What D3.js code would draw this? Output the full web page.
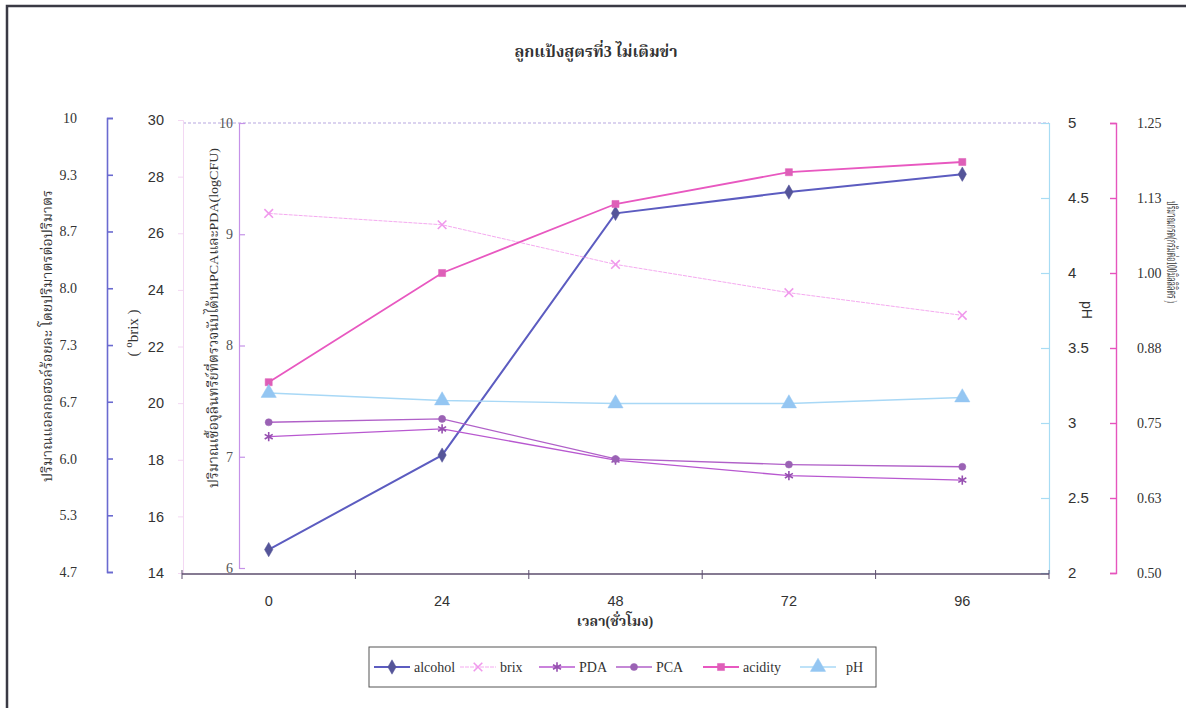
<!DOCTYPE html>
<html>
<head>
<meta charset="utf-8">
<script src="https://cdn.jsdelivr.net/npm/d3@7"></script>
<style>
  body { margin: 0; background: #fff; }
  svg { display: block; }
</style>
</head>
<body>
<svg id="chart" width="1186" height="708"></svg>
<script>
// Fermentation time (hours)
const hours = ["0", "24", "48", "72", "96"];

// Measured series
const alcohol = [4.93, 6.04, 8.88, 9.13, 9.34];     // % v/v
const brix    = [26.7, 26.3, 24.9, 23.9, 23.1];     // °brix
const pda     = [7.18, 7.25, 6.97, 6.83, 6.79];     // logCFU
const pca     = [7.31, 7.34, 6.98, 6.93, 6.91];     // logCFU
const acidity = [0.818, 1.00, 1.115, 1.168, 1.185]; // g / 100 ml
const ph      = [3.20, 3.15, 3.13, 3.13, 3.17];

// Axis ticks
const alcoholTicks = [10, 9.333, 8.667, 8, 7.333, 6.667, 6, 5.333, 4.667];
const alcoholTickLabels = ["10", "9.3", "8.7", "8.0", "7.3", "6.7", "6.0", "5.3", "4.7"];
const brixTicks = [30, 28, 26, 24, 22, 20, 18, 16, 14];
const microbeTicks = [10, 9, 8, 7, 6];
const phTicks = [5, 4.5, 4, 3.5, 3, 2.5, 2];
const acidityTicks = [1.25, 1.125, 1.0, 0.875, 0.75, 0.625, 0.5];
const acidityTickLabels = ["1.25", "1.13", "1.00", "0.88", "0.75", "0.63", "0.50"];

const THAI_SERIF = "'Liberation Serif', 'Noto Serif Thai', 'Noto Sans Thai', 'Times New Roman', serif";
const SANS = "'Liberation Sans', Arial, sans-serif";
const SERIF = "'Liberation Serif', 'Times New Roman', serif";

const svg = d3.select("#chart");

// frame
svg.append("path")
  .attr("d", "M7,708 V6 H1186")
  .attr("fill", "none").attr("stroke", "#3a3a44").attr("stroke-width", 2.5);

// scales
const x = d3.scaleBand().domain(hours).range([182, 1049]);
const cx = d => x(d) + x.bandwidth() / 2;
const yAlc  = d3.scaleLinear().domain([d3.min(alcoholTicks), d3.max(alcoholTicks)]).range([572, 118]);
const yBrix = d3.scaleLinear().domain([d3.min(brixTicks), d3.max(brixTicks)]).range([573, 120]);
const yMic  = d3.scaleLinear().domain([d3.min(microbeTicks), d3.max(microbeTicks)]).range([568, 123]);
const yPh   = d3.scaleLinear().domain([d3.min(phTicks), d3.max(phTicks)]).range([573, 123]);
const yAcid = d3.scaleLinear().domain([d3.min(acidityTicks), d3.max(acidityTicks)]).range([573, 123]);

function styleAxis(g, color, textColor, font, size, width) {
  g.select(".domain").attr("stroke", color).attr("stroke-width", width || 1.3);
  g.selectAll(".tick line").attr("stroke", color).attr("stroke-width", width || 1.3);
  g.selectAll(".tick text").attr("fill", textColor).attr("font-family", font).attr("font-size", size);
}

// plot area top edge (dotted)
svg.append("line").attr("x1", 183).attr("x2", 1049).attr("y1", 123).attr("y2", 123)
  .attr("stroke", "#b8a8e0").attr("stroke-width", 1.2).attr("stroke-dasharray", "3,2");

// brix axis (very faint line, dark labels)
const gBrix = svg.append("g").attr("transform", "translate(183,0)")
  .call(d3.axisLeft(yBrix).tickValues(brixTicks).tickSize(5).tickPadding(14).tickFormat(d3.format("d")));
styleAxis(gBrix, "#f3d8f3", "#333", SANS, 14.5, 1);

// alcohol axis
const gAlc = svg.append("g").attr("transform", "translate(107,0)")
  .call(d3.axisLeft(yAlc).tickValues(alcoholTicks).tickSize(-6).tickPadding(30)
    .tickFormat((d, i) => alcoholTickLabels[i]));
styleAxis(gAlc, "#6a6ad0", "#333", SERIF, 14, 1.6);

// microbe count axis (PCA / PDA)
const gMic = svg.append("g").attr("transform", "translate(239,0)")
  .call(d3.axisLeft(yMic).tickValues(microbeTicks).tickSize(-6).tickPadding(6).tickFormat(d3.format("d")));
styleAxis(gMic, "#c592e8", "#555", SERIF, 14, 1.2);

// pH axis
const gPh = svg.append("g").attr("transform", "translate(1049,0)")
  .call(d3.axisRight(yPh).tickValues(phTicks).tickSize(-8).tickPadding(19).tickFormat(d => String(d)));
styleAxis(gPh, "#a8dcf4", "#333", SANS, 15, 1.2);

// acidity axis
const gAcid = svg.append("g").attr("transform", "translate(1116,0)")
  .call(d3.axisRight(yAcid).tickValues(acidityTicks).tickSize(-6).tickPadding(21)
    .tickFormat((d, i) => acidityTickLabels[i]));
styleAxis(gAcid, "#e655bd", "#333", SERIF, 14, 1.4);

// x axis
svg.append("line").attr("x1", 182).attr("x2", 1049).attr("y1", 574).attr("y2", 574)
  .attr("stroke", "#5c4e6e").attr("stroke-width", 1.6);
svg.append("g").selectAll("line")
  .data(d3.range(hours.length + 1))
  .join("line")
  .attr("x1", i => x.range()[0] + i * x.step()).attr("x2", i => x.range()[0] + i * x.step())
  .attr("y1", 570).attr("y2", 579)
  .attr("stroke", "#5c4e6e").attr("stroke-width", 1);
const gX = svg.append("g").attr("transform", "translate(0,574)")
  .call(d3.axisBottom(x).tickSize(0).tickPadding(22));
gX.select(".domain").remove();
gX.selectAll(".tick text").attr("fill", "#333").attr("font-family", SANS).attr("font-size", 14.5);

// axis titles
svg.append("text").attr("transform", "translate(52,336) rotate(-90)")
  .attr("text-anchor", "middle").attr("font-family", THAI_SERIF).attr("font-size", 14).attr("fill", "#333")
  .attr("textLength", 292).attr("lengthAdjust", "spacingAndGlyphs")
  .text("ปริมาณแอลกอฮอล์ร้อยละ โดยปริมาตรต่อปริมาตร");

const brixTitle = svg.append("text").attr("transform", "translate(138,333) rotate(-90)")
  .attr("text-anchor", "middle").attr("font-family", SERIF).attr("font-size", 15).attr("fill", "#333");
brixTitle.append("tspan").text("( ");
brixTitle.append("tspan").attr("font-size", 11).attr("dy", -6).text("o");
brixTitle.append("tspan").attr("dy", 6).text("brix )");

svg.append("text").attr("transform", "translate(218,318) rotate(-90)")
  .attr("text-anchor", "middle").attr("font-family", THAI_SERIF).attr("font-size", 13.5).attr("fill", "#333")
  .attr("textLength", 340).attr("lengthAdjust", "spacingAndGlyphs")
  .text("ปริมาณเชื้อจุลินทรีย์ที่ตรวจนับได้บนPCAและPDA(logCFU)");

svg.append("text").attr("transform", "translate(1082,310) rotate(90)")
  .attr("text-anchor", "middle").attr("font-family", SANS).attr("font-size", 14).attr("fill", "#333")
  .text("pH");

svg.append("text").attr("transform", "translate(1167,252) rotate(90)")
  .attr("text-anchor", "middle").attr("font-family", THAI_SERIF).attr("font-size", 14).attr("fill", "#333")
  .attr("textLength", 102).attr("lengthAdjust", "spacingAndGlyphs")
  .text("ปริมาณกรด(กรัมต่อ100มิลลิลิตร )");

svg.append("text").attr("x", 615).attr("y", 626)
  .attr("text-anchor", "middle").attr("font-family", THAI_SERIF).attr("font-size", 14)
  .attr("font-weight", "bold").attr("fill", "#333")
  .text("เวลา(ชั่วโมง)");

// chart title
svg.append("text").attr("x", 596).attr("y", 57)
  .attr("text-anchor", "middle").attr("font-family", THAI_SERIF).attr("font-size", 16)
  .attr("font-weight", "bold").attr("fill", "#333")
  .text("ลูกแป้งสูตรที่3 ไม่เติมข่า");

// series definitions
const series = [
  { name: "alcohol", values: alcohol, y: yAlc,  line: "#5c5cc0", mark: "#555599", sym: d3.symbolDiamond,  size: 60, stroke: false, lw: 2 },
  { name: "brix",    values: brix,    y: yBrix, line: "#f5aaf0", mark: "#f099ec", sym: d3.symbolX,        size: 50, stroke: true,  lw: 1, dash: "4,1" },
  { name: "PDA",     values: pda,     y: yMic,  line: "#b858d0", mark: "#9650b0", sym: d3.symbolAsterisk, size: 60, stroke: true,  lw: 1.3 },
  { name: "PCA",     values: pca,     y: yMic,  line: "#b060c8", mark: "#9a62b4", sym: d3.symbolCircle,   size: 40, stroke: false, lw: 1.3 },
  { name: "acidity", values: acidity, y: yAcid, line: "#e858c0", mark: "#de5fb8", sym: d3.symbolSquare,   size: 50, stroke: false, lw: 1.8 },
  { name: "pH",      values: ph,      y: yPh,   line: "#a8d8f6", mark: "#94c6f2", sym: d3.symbolTriangle, size: 100, stroke: false, lw: 1.3 }
];

series.forEach(s => {
  const g = svg.append("g");
  const line = d3.line().x((d, i) => cx(hours[i])).y(d => s.y(d));
  g.append("path").datum(s.values)
    .attr("d", line).attr("fill", "none")
    .attr("stroke", s.line).attr("stroke-width", s.lw)
    .attr("stroke-dasharray", s.dash || null);
  g.selectAll("path.mk").data(s.values).join("path").attr("class", "mk")
    .attr("transform", (d, i) => `translate(${cx(hours[i])},${s.y(d)})`)
    .attr("d", d3.symbol(s.sym, s.size))
    .attr("fill", s.stroke ? "none" : s.mark)
    .attr("stroke", s.mark).attr("stroke-width", s.stroke ? 1.6 : 0.5);
});

// legend: box and the centre of each entry's sample marker
const legendMarkerX = [392, 478, 557, 634, 721, 818];
const legend = svg.append("g");
legend.append("rect").attr("x", 369).attr("y", 647).attr("width", 507).attr("height", 40)
  .attr("fill", "#fff").attr("stroke", "#555").attr("stroke-width", 1);
series.forEach((s, i) => {
  const g = legend.append("g").attr("transform", `translate(${legendMarkerX[i]},667)`);
  g.append("line").attr("x1", -18).attr("x2", 18).attr("y1", 0).attr("y2", 0)
    .attr("stroke", s.line).attr("stroke-width", s.lw).attr("stroke-dasharray", s.dash || null);
  g.append("path")
    .attr("d", d3.symbol(s.sym, s.size))
    .attr("fill", s.stroke ? "none" : s.mark)
    .attr("stroke", s.mark).attr("stroke-width", s.stroke ? 1.6 : 0.5);
  g.append("text").attr("x", i === series.length - 1 ? 28 : 22).attr("y", 5)
    .attr("font-family", SERIF).attr("font-size", 14).attr("fill", "#333").text(s.name);
});
</script>
</body>
</html>
